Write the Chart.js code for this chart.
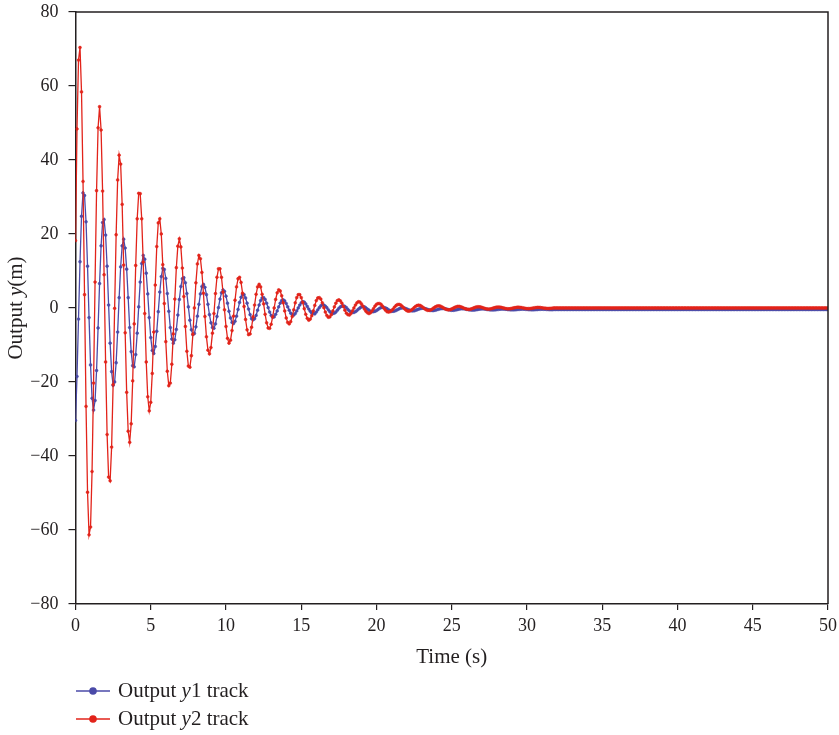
<!DOCTYPE html>
<html>
<head>
<meta charset="utf-8">
<title>Output tracks</title>
<script src="https://cdn.jsdelivr.net/npm/chart.js@4.4.1/dist/chart.umd.min.js"></script>
<style>
  html, body { margin: 0; padding: 0; background: #ffffff; }
  #wrap { width: 839px; height: 735px; position: relative; }
</style>
</head>
<body>
<div id="wrap"><canvas id="trackChart"></canvas></div>
<script>
// samples every 0.1 s from t = 0
const sampleStep = 0.1;

const timeTicks = [0, 5, 10, 15, 20, 25, 30, 35, 40, 45, 50];
const outputTicks = [-80, -60, -40, -20, 0, 20, 40, 60, 80];

// Output y1 track
const y1Track = [
  // 0 - 5.2 s
  -30.4, -18.5, -3.0, 12.5, 24.8, 31.1, 30.4, 23.3, 11.3, -2.6,
  -15.4, -24.4, -27.6, -25.0, -16.9, -5.4, 6.6, 16.8, 23.1, 23.9,
  19.7, 11.3, 0.8, -9.5, -17.2, -20.9, -20.0, -14.8, -6.5, 2.8,
  11.1, 16.8, 18.6, 16.2, 10.5, 2.8, -5.3, -11.8, -15.6, -15.9,
  -12.6, -6.8, 0.3, 7.0, 12.0, 14.2, 13.2, 9.4, 3.8, -2.6,
  -8.0, -11.5, -12.3,
  // 5.3 - 10.5 s
  -10.4, -6.3, -1.0, 4.3, 8.5, 10.7, 10.4, 8.0, 3.9, -0.9,
  -5.3, -8.4, -9.5, -8.6, -5.8, -1.9, 2.3, 5.8, 7.9, 8.2,
  6.8, 3.9, 0.3, -3.3, -5.9, -7.2, -6.9, -5.1, -2.2, 1.0,
  3.8, 5.8, 6.4, 5.6, 3.6, 1.0, -1.8, -4.0, -5.3, -5.5,
  -4.3, -2.3, 0.1, 2.4, 4.1, 4.9, 4.5, 3.2, 1.3, -0.9,
  -2.7, -3.9, -4.2,
  // 10.6 - 15.8 s
  -3.6, -2.2, -0.4, 1.5, 2.9, 3.7, 3.6, 2.7, 1.3, -0.3,
  -1.8, -2.9, -3.2, -2.9, -2.0, -0.6, 0.8, 2.0, 2.7, 2.8,
  2.3, 1.3, 0.1, -1.1, -2.0, -2.5, -2.4, -1.7, -0.8, 0.3,
  1.3, 2.0, 2.2, 1.9, 1.2, 0.3, -0.6, -1.4, -1.8, -1.9,
  -1.5, -0.8, 0.0, 0.8, 1.4, 1.7, 1.6, 1.1, 0.4, -0.3,
  -0.9, -1.4, -1.4,
  // 15.9 - 21.1 s
  -1.6, -1.1, -0.5, 0.1, 0.6, 0.9, 0.8, 0.5, 0.1, -0.5,
  -1.0, -1.4, -1.5, -1.4, -1.1, -0.6, -0.1, 0.3, 0.5, 0.6,
  0.4, 0.1, -0.4, -0.8, -1.1, -1.2, -1.2, -1.0, -0.7, -0.3,
  0.0, 0.3, 0.3, 0.3, 0.0, -0.3, -0.6, -0.9, -1.0, -1.0,
  -0.9, -0.7, -0.4, -0.1, 0.1, 0.2, 0.1, 0.0, -0.2, -0.5,
  -0.7, -0.9, -0.9,
  // 21.2 - 26.4 s
  -0.82, -0.66, -0.44, -0.23, -0.06, 0.03, 0.02, -0.08, -0.24, -0.44,
  -0.61, -0.74, -0.78, -0.75, -0.63, -0.47, -0.31, -0.17, -0.08, -0.07,
  -0.13, -0.24, -0.39, -0.53, -0.64, -0.69, -0.68, -0.60, -0.49, -0.36,
  -0.25, -0.17, -0.14, -0.18, -0.25, -0.36, -0.47, -0.56, -0.62, -0.62,
  -0.57, -0.49, -0.40, -0.30, -0.23, -0.20, -0.22, -0.27, -0.35, -0.44,
  -0.51, -0.56, -0.57,
  // 26.5 - 31.7 s
  -0.54, -0.49, -0.41, -0.34, -0.28, -0.25, -0.26, -0.29, -0.35, -0.41,
  -0.47, -0.52, -0.53, -0.52, -0.48, -0.43, -0.37, -0.32, -0.29, -0.29,
  -0.31, -0.35, -0.40, -0.45, -0.48, -0.50, -0.49, -0.47, -0.43, -0.39,
  -0.35, -0.32, -0.31, -0.32, -0.35, -0.39, -0.43, -0.46, -0.47, -0.48,
  -0.46, -0.43, -0.40, -0.37, -0.34, -0.33, -0.34, -0.36, -0.38, -0.41,
  -0.44, -0.45, -0.46,
  // 31.8 - 50 s, settled
  -0.4, -0.4, -0.4, -0.4, -0.4, -0.4, -0.4, -0.4, -0.4, -0.4,
  -0.4, -0.4, -0.4, -0.4, -0.4, -0.4, -0.4, -0.4, -0.4, -0.4,
  -0.4, -0.4, -0.4, -0.4, -0.4, -0.4, -0.4, -0.4, -0.4, -0.4,
  -0.4, -0.4, -0.4, -0.4, -0.4, -0.4, -0.4, -0.4, -0.4, -0.4,
  -0.4, -0.4, -0.4, -0.4, -0.4, -0.4, -0.4, -0.4, -0.4, -0.4,
  -0.4, -0.4, -0.4, -0.4, -0.4, -0.4, -0.4, -0.4, -0.4, -0.4,
  -0.4, -0.4, -0.4, -0.4, -0.4, -0.4, -0.4, -0.4, -0.4, -0.4,
  -0.4, -0.4, -0.4, -0.4, -0.4, -0.4, -0.4, -0.4, -0.4, -0.4,
  -0.4, -0.4, -0.4, -0.4, -0.4, -0.4, -0.4, -0.4, -0.4, -0.4,
  -0.4, -0.4, -0.4, -0.4, -0.4, -0.4, -0.4, -0.4, -0.4, -0.4,
  -0.4, -0.4, -0.4, -0.4, -0.4, -0.4, -0.4, -0.4, -0.4, -0.4,
  -0.4, -0.4, -0.4, -0.4, -0.4, -0.4, -0.4, -0.4, -0.4, -0.4,
  -0.4, -0.4, -0.4, -0.4, -0.4, -0.4, -0.4, -0.4, -0.4, -0.4,
  -0.4, -0.4, -0.4, -0.4, -0.4, -0.4, -0.4, -0.4, -0.4, -0.4,
  -0.4, -0.4, -0.4, -0.4, -0.4, -0.4, -0.4, -0.4, -0.4, -0.4,
  -0.4, -0.4, -0.4, -0.4, -0.4, -0.4, -0.4, -0.4, -0.4, -0.4,
  -0.4, -0.4, -0.4, -0.4, -0.4, -0.4, -0.4, -0.4, -0.4, -0.4,
  -0.4, -0.4, -0.4, -0.4, -0.4, -0.4, -0.4, -0.4, -0.4, -0.4,
  -0.4, -0.4, -0.4
];

// Output y2 track
const y2Track = [
  // 0 - 5.2 s
  18.2, 48.4, 67.0, 70.4, 58.4, 34.2, 3.6, -26.6, -49.8, -61.3,
  -59.2, -44.2, -20.3, 7.0, 31.7, 48.7, 54.4, 48.1, 31.6, 9.0,
  -14.6, -34.2, -45.7, -46.7, -37.6, -20.7, -0.1, 19.8, 34.6, 41.3,
  38.9, 28.0, 11.6, -6.7, -22.8, -33.3, -36.3, -31.3, -19.7, -4.3,
  11.5, 24.1, 31.0, 30.9, 24.1, 12.4, -1.5, -14.6, -24.0, -27.8,
  -25.5, -17.7, -6.5,
  // 5.3 - 10.5 s
  6.2, 16.6, 23.0, 24.1, 20.0, 11.7, 1.2, -9.1, -17.1, -21.0,
  -20.3, -15.2, -7.0, 2.4, 10.9, 16.7, 18.7, 16.5, 10.8, 3.1,
  -5.0, -11.7, -15.7, -16.0, -12.9, -7.1, 0.0, 6.8, 11.9, 14.2,
  13.3, 9.6, 4.0, -2.3, -7.8, -11.4, -12.4, -10.7, -6.8, -1.5,
  3.9, 8.3, 10.6, 10.6, 8.3, 4.3, -0.5, -5.0, -8.2, -9.5,
  -8.7, -6.1, -2.2,
  // 10.6 - 15.8 s
  2.1, 5.7, 7.9, 8.3, 6.9, 4.0, 0.4, -3.1, -5.9, -7.2,
  -7.0, -5.2, -2.4, 0.8, 3.7, 5.7, 6.4, 5.7, 3.7, 1.1,
  -1.7, -4.0, -5.4, -5.5, -4.4, -2.4, 0.0, 2.3, 4.1, 4.9,
  4.6, 3.3, 1.4, -0.8, -2.7, -3.9, -4.3, -3.7, -2.3, -0.5,
  1.4, 2.8, 3.6, 3.6, 2.8, 1.5, -0.2, -1.7, -2.8, -3.3,
  -3.0, -2.1, -0.8,
  // 15.9 - 21.1 s
  0.7, 2.0, 2.7, 2.8, 2.4, 1.4, 0.1, -1.1, -2.0, -2.5,
  -2.4, -1.8, -0.8, 0.3, 1.3, 2.0, 2.2, 1.9, 1.3, 0.4,
  -0.6, -1.4, -1.8, -1.9, -1.5, -0.8, 0.0, 0.8, 1.4, 1.7,
  1.6, 1.1, 0.5, -0.3, -0.9, -1.3, -1.5, -1.3, -0.8, -0.2,
  0.5, 1.0, 1.2, 1.2, 1.0, 0.5, -0.1, -0.6, -1.0, -1.1,
  -1.0, -0.7, -0.3,
  // 21.2 - 26.4 s
  0.25, 0.67, 0.93, 0.97, 0.81, 0.47, 0.05, -0.37, -0.69, -0.85,
  -0.82, -0.61, -0.28, 0.10, 0.44, 0.67, 0.75, 0.67, 0.44, 0.12,
  -0.20, -0.47, -0.63, -0.65, -0.52, -0.29, 0.00, 0.27, 0.48, 0.57,
  0.54, 0.39, 0.16, -0.09, -0.32, -0.46, -0.50, -0.43, -0.27, -0.06,
  0.16, 0.33, 0.43, 0.43, 0.33, 0.17, -0.02, -0.20, -0.33, -0.38,
  -0.35, -0.24, -0.09,
  // 26.5 - 31.7 s
  0.09, 0.23, 0.32, 0.33, 0.28, 0.16, 0.02, -0.13, -0.24, -0.29,
  -0.28, -0.21, -0.10, 0.03, 0.15, 0.23, 0.26, 0.23, 0.15, 0.04,
  -0.07, -0.16, -0.22, -0.22, -0.18, -0.10, 0.00, 0.09, 0.16, 0.20,
  0.18, 0.13, 0.05, -0.03, -0.11, -0.16, -0.17, -0.15, -0.09, -0.02,
  0.05, 0.11, 0.15, 0.15, 0.11, 0.06, -0.01, -0.07, -0.11, -0.13,
  -0.12, -0.08, -0.03,
  // 31.8 - 50 s, settled
  0, 0, 0, 0, 0, 0, 0, 0, 0, 0,
  0, 0, 0, 0, 0, 0, 0, 0, 0, 0,
  0, 0, 0, 0, 0, 0, 0, 0, 0, 0,
  0, 0, 0, 0, 0, 0, 0, 0, 0, 0,
  0, 0, 0, 0, 0, 0, 0, 0, 0, 0,
  0, 0, 0, 0, 0, 0, 0, 0, 0, 0,
  0, 0, 0, 0, 0, 0, 0, 0, 0, 0,
  0, 0, 0, 0, 0, 0, 0, 0, 0, 0,
  0, 0, 0, 0, 0, 0, 0, 0, 0, 0,
  0, 0, 0, 0, 0, 0, 0, 0, 0, 0,
  0, 0, 0, 0, 0, 0, 0, 0, 0, 0,
  0, 0, 0, 0, 0, 0, 0, 0, 0, 0,
  0, 0, 0, 0, 0, 0, 0, 0, 0, 0,
  0, 0, 0, 0, 0, 0, 0, 0, 0, 0,
  0, 0, 0, 0, 0, 0, 0, 0, 0, 0,
  0, 0, 0, 0, 0, 0, 0, 0, 0, 0,
  0, 0, 0, 0, 0, 0, 0, 0, 0, 0,
  0, 0, 0, 0, 0, 0, 0, 0, 0, 0,
  0, 0, 0
];

const seriesNames = ['1', '2'];
const blue = '#4a4aa8';
const red = '#e2231a';
const ink = '#231f20';
const serif = '"Liberation Serif", "Times New Roman", serif';

function toPoints(values) {
    return values.map((v, i) => ({ x: Math.round(i * sampleStep * 10) / 10, y: v }));
}

// draws "Output <i>y</i>..." with the y in italics, returns width
function drawMixed(ctx, parts, x, y, size, measureOnly) {
    let cx = x;
    parts.forEach(p => {
        ctx.font = (p.italic ? 'italic ' : '') + size + 'px ' + serif;
        if (!measureOnly) ctx.fillText(p.text, cx, y);
        cx += ctx.measureText(p.text).width;
    });
    return cx - x;
}

const decorPlugin = {
    id: 'decor',
    afterDraw(chart) {
        const ctx = chart.ctx;
        const area = chart.chartArea;
        ctx.save();

        // top and right edges of the frame
        ctx.strokeStyle = ink;
        ctx.lineWidth = 1.5;
        ctx.beginPath();
        ctx.moveTo(area.left, area.top);
        ctx.lineTo(area.right, area.top);
        ctx.lineTo(area.right, area.bottom);
        ctx.stroke();

        ctx.fillStyle = ink;
        ctx.textBaseline = 'alphabetic';
        ctx.textAlign = 'left';

        // x axis title
        ctx.font = '21px ' + serif;
        const xt = 'Time (s)';
        const xw = ctx.measureText(xt).width;
        ctx.fillText(xt, (area.left + area.right) / 2 - xw / 2, 663);

        // y axis title
        const yParts = [{ text: 'Output ' }, { text: 'y', italic: true }, { text: '(m)' }];
        const yw = drawMixed(ctx, yParts, 0, 0, 21, true);
        ctx.translate(16, (area.top + area.bottom) / 2);
        ctx.rotate(-Math.PI / 2);
        ctx.textBaseline = 'middle';
        drawMixed(ctx, yParts, -yw / 2, 0, 21, false);
        ctx.setTransform(1, 0, 0, 1, 0, 0);

        // legend
        const rows = [
            { color: blue, y: 691, name: seriesNames[0] },
            { color: red, y: 719, name: seriesNames[1] }
        ];
        rows.forEach(r => {
            ctx.strokeStyle = r.color;
            ctx.lineWidth = 1.5;
            ctx.beginPath();
            ctx.moveTo(76, r.y);
            ctx.lineTo(110, r.y);
            ctx.stroke();
            ctx.fillStyle = r.color;
            ctx.beginPath();
            ctx.arc(93, r.y, 3.8, 0, Math.PI * 2);
            ctx.fill();
            ctx.fillStyle = ink;
            ctx.textBaseline = 'middle';
            drawMixed(ctx, [{ text: 'Output ' }, { text: 'y', italic: true }, { text: r.name + ' track' }],
                118, r.y, 21, false);
        });
        ctx.restore();
    }
};

const minus = v => String(v).replace('-', '\u2212');

new Chart(document.getElementById('trackChart'), {
    type: 'line',
    data: {
        datasets: [
            {
                label: 'Output y1 track',
                data: toPoints(y1Track),
                borderColor: blue,
                backgroundColor: blue,
                borderWidth: 1.3,
                pointRadius: 1.4,
                pointBorderWidth: 0.6,
                pointBackgroundColor: blue,
                pointBorderColor: blue,
                tension: 0,
                order: 2
            },
            {
                label: 'Output y2 track',
                data: toPoints(y2Track),
                borderColor: red,
                backgroundColor: red,
                borderWidth: 1.3,
                pointRadius: 1.4,
                pointBorderWidth: 0.6,
                pointBackgroundColor: red,
                pointBorderColor: red,
                tension: 0,
                order: 1
            }
        ]
    },
    options: {
        responsive: true,
        maintainAspectRatio: false,
        animation: false,
        events: [],
        layout: { padding: { top: 12, right: 11, bottom: 0, left: 0 } },
        plugins: {
            legend: { display: false },
            tooltip: { enabled: false }
        },
        scales: {
            x: {
                type: 'linear',
                min: 0,
                max: 50,
                afterBuildTicks: axis => { axis.ticks = timeTicks.map(v => ({ value: v })); },
                afterFit: axis => {
                    axis.height = 131;
                    axis.paddingLeft = 0;
                    axis.paddingRight = 0;
                },
                grid: {
                    drawOnChartArea: false,
                    drawTicks: true,
                    tickLength: 6,
                    color: ink,
                    lineWidth: 1.2
                },
                border: { display: true, color: ink, width: 1.5 },
                ticks: {
                    color: ink,
                    padding: 5,
                    maxRotation: 0,
                    font: { family: serif, size: 18 },
                    callback: v => minus(v)
                }
            },
            y: {
                type: 'linear',
                min: -80,
                max: 80,
                afterBuildTicks: axis => { axis.ticks = outputTicks.map(v => ({ value: v })); },
                afterFit: axis => {
                    axis.width = 75.5;
                    axis.paddingTop = 0;
                    axis.paddingBottom = 0;
                },
                grid: {
                    drawOnChartArea: false,
                    drawTicks: true,
                    tickLength: 7,
                    color: ink,
                    lineWidth: 1.2
                },
                border: { display: true, color: ink, width: 1.5 },
                ticks: {
                    color: ink,
                    padding: 10,
                    font: { family: serif, size: 18 },
                    callback: v => minus(v)
                }
            }
        }
    },
    plugins: [decorPlugin]
});
</script>
</body>
</html>
